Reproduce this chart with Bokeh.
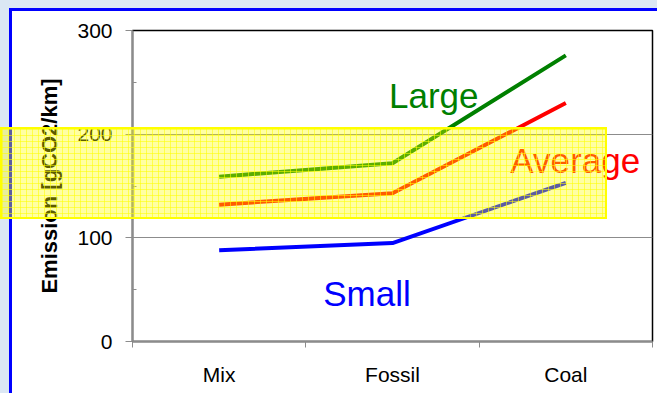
from bokeh.plotting import figure
from bokeh.models import Range1d, FixedTicker, InlineStyleSheet
from bokeh.core.properties import value
from bokeh.embed import file_html
from bokeh.resources import INLINE

# ---- data ----
categories = ["Mix", "Fossil", "Coal"]
large = [159, 172, 276]
average = [132, 143, 230]
small = [88, 95, 153]
series_names = ["Large", "Average", "Small"]
series_colors = ["#008000", "#ff0000", "#0000ff"]
y_ticks = [0, 100, 200, 300]
y_label = "Emission [gCO2/km]"

# label anchor positions (x in category units, y in data units)
label_x = [1.48, 2.18, 1.10]
label_y = [237, 174.5, 46.5]

FONT = "Liberation Sans"

xs = [i + 0.5 for i in range(len(categories))]

p = figure(width=657, height=393, output_backend="svg", toolbar_location=None,
           x_range=Range1d(0, len(categories)), y_range=Range1d(0, 300),
           min_border_left=132, min_border_right=5, min_border_top=30,
           min_border_bottom=52)

p.background_fill_color = "white"
p.border_fill_color = "white"
p.outline_line_color = "black"
p.outline_line_width = 1.5

# grid
p.xgrid.grid_line_color = None
p.ygrid.ticker = FixedTicker(ticks=[100, 200])
p.ygrid.grid_line_color = "#8c8c8c"
p.ygrid.grid_line_width = 1.2

# y axis
ya = p.yaxis[0]
ya.ticker = FixedTicker(ticks=y_ticks, minor_ticks=[50, 150, 250])
ya.axis_line_color = "#8c8c8c"
ya.axis_line_width = 2
ya.major_tick_line_color = "#8c8c8c"
ya.major_tick_out = 7
ya.major_tick_in = 0
ya.minor_tick_line_color = "#8c8c8c"
ya.minor_tick_in = 4
ya.minor_tick_out = 0
ya.major_label_text_font = FONT
ya.major_label_text_font_size = "21px"
ya.major_label_text_color = "black"
ya.major_label_standoff = 13
ya.axis_label = y_label
ya.axis_label_text_font = FONT
ya.axis_label_text_font_style = "bold"
ya.axis_label_text_font_size = "22px"
ya.axis_label_text_color = "black"
ya.axis_label_standoff = 12

# x axis: labels at category centres, ticks at boundaries
xa = p.xaxis[0]
xa.ticker = FixedTicker(ticks=xs, minor_ticks=list(range(len(categories) + 1)))
xa.major_label_overrides = {x: c for x, c in zip(xs, categories)}
xa.axis_line_color = "#8c8c8c"
xa.axis_line_width = 2
xa.major_tick_line_color = None
xa.major_tick_out = 0
xa.major_tick_in = 0
xa.minor_tick_line_color = "#8c8c8c"
xa.minor_tick_out = 6
xa.minor_tick_in = 0
xa.major_label_text_font = FONT
xa.major_label_text_font_size = "21px"
xa.major_label_text_color = "black"
xa.major_label_standoff = 15

# lines
for vals, col in zip([large, average, small], series_colors):
    p.line(xs, vals, line_color=col, line_width=4)

# series labels
p.text(x=label_x, y=label_y, text=series_names, text_color=series_colors,
       text_font=value(FONT), text_font_size="35px",
       text_align="left", text_baseline="alphabetic")

# decorations: slide frame and translucent yellow highlight band (overlaid via CSS)
css = """
:host { position: relative; overflow: visible; }
:host::before {
  content: ""; position: absolute; left: 0; top: 0; right: 0; bottom: 0;
  box-sizing: border-box;
  border-left: 9px solid #dbe7f4; border-top: 8px solid #dbe7f4;
  box-shadow: inset 3px 3px 0 #0000ff;
  z-index: 20; pointer-events: none;
}
:host::after {
  content: ""; position: absolute; left: 0; top: 127px; width: 607px; height: 92px;
  box-sizing: border-box;
  border: 2px solid #ffff00;
  background-color: rgba(255, 255, 0, 0.36);
  background-image:
    linear-gradient(rgba(255, 255, 0, 0.55) 1px, transparent 1px),
    linear-gradient(90deg, rgba(255, 255, 0, 0.55) 1px, transparent 1px);
  background-size: 6px 6px;
  z-index: 21; pointer-events: none;
}
"""
p.stylesheets = [InlineStyleSheet(css=css)]

open("out.html", "w").write(file_html(p, INLINE))
